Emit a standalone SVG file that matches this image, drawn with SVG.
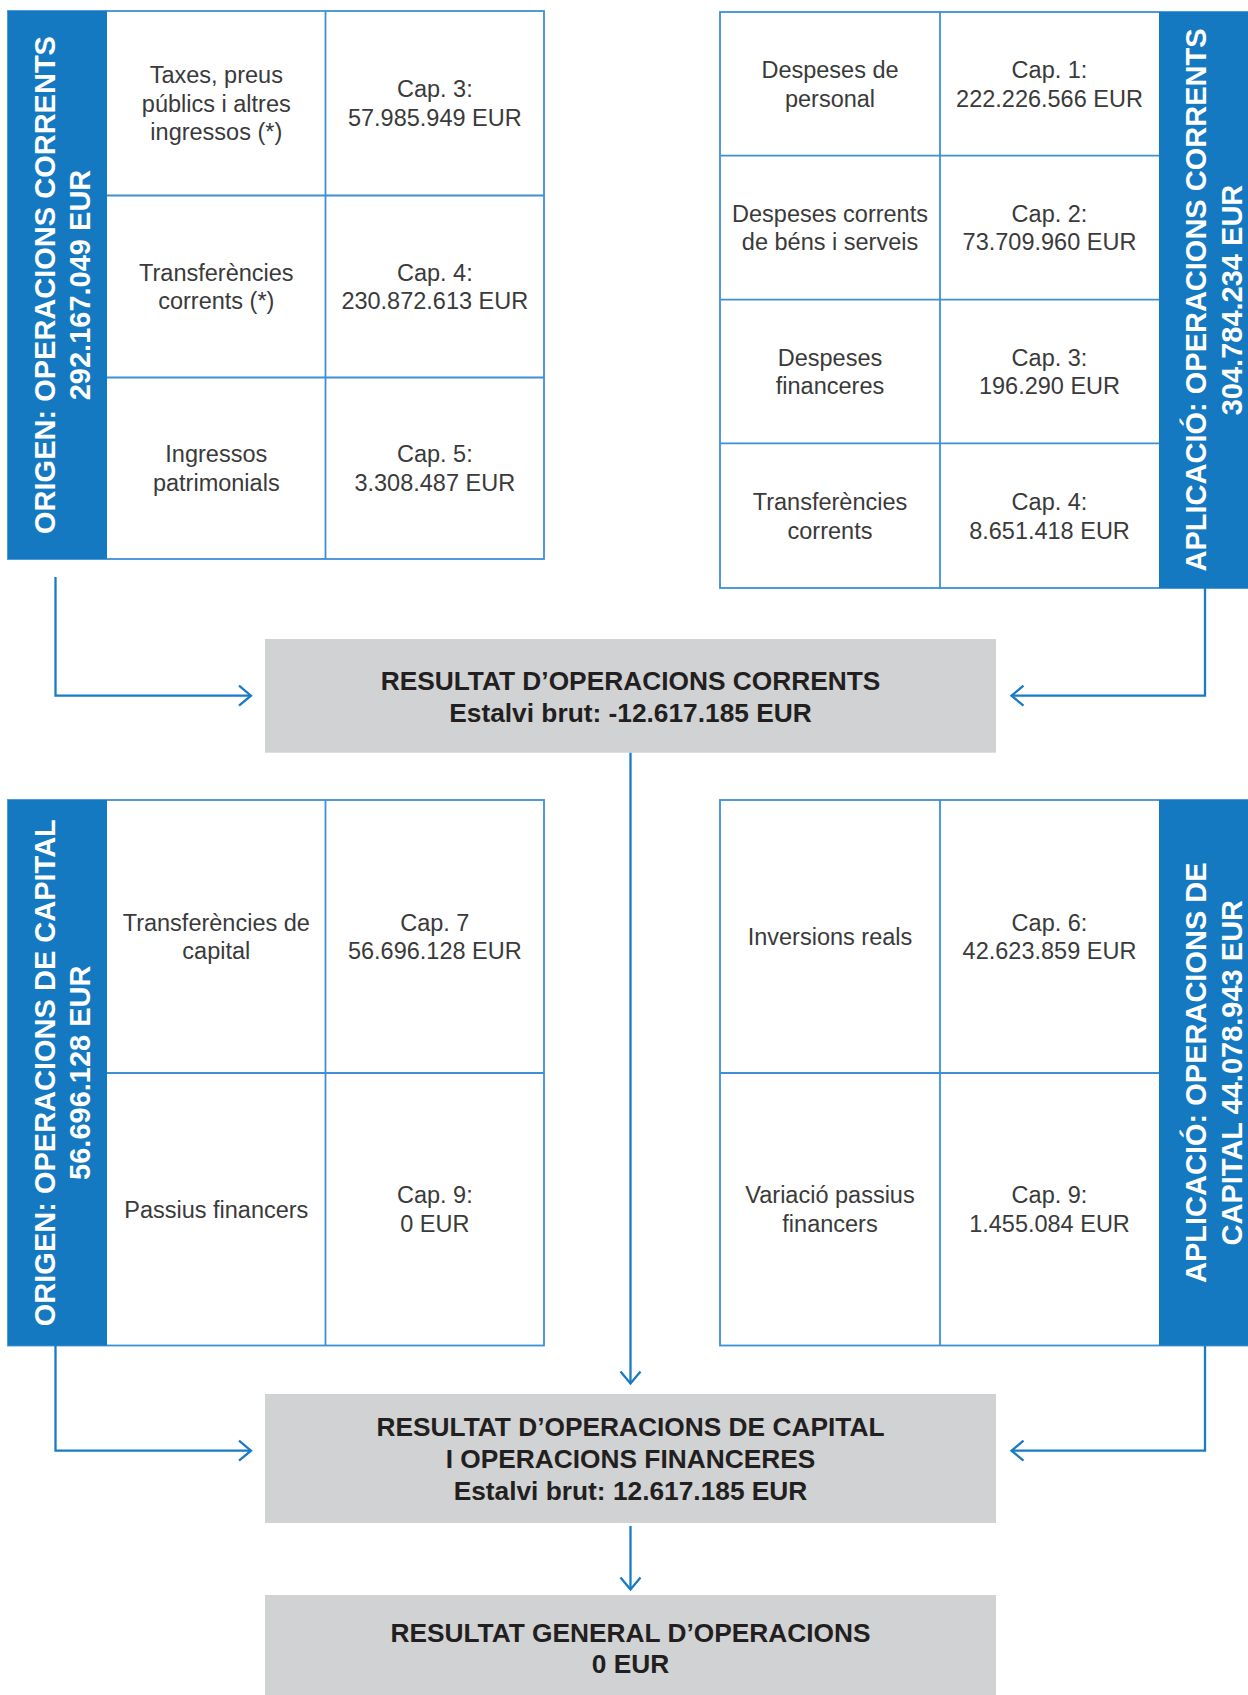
<svg xmlns="http://www.w3.org/2000/svg" width="1248" height="1695" viewBox="0 0 1248 1695">
<style>
.cell{font-family:"Liberation Sans",Arial,sans-serif;font-size:23.5px;fill:#3a3a3a;text-anchor:middle}
.band{font-family:"Liberation Sans",Arial,sans-serif;font-size:29px;font-weight:bold;fill:#ffffff;text-anchor:middle}
.res{font-family:"Liberation Sans",Arial,sans-serif;font-size:26.3px;font-weight:bold;fill:#231f20;text-anchor:middle}
.frame{fill:#ffffff;stroke:#3d8fd6;stroke-width:1.8}
.grid{stroke:#3d8fd6;stroke-width:1.8;fill:none}
.bandbg{fill:#1479c1}
.box{fill:#d1d2d4}
.conn{stroke:#1a7ac4;stroke-width:2.3;fill:none}
</style>
<defs>
<marker id="chev" markerUnits="userSpaceOnUse" viewBox="-16 -14 20 28" refX="0" refY="0" markerWidth="20" markerHeight="28" orient="auto">
<path d="M-12,-10 L0,0 L-12,10" fill="none" stroke="#1a7ac4" stroke-width="2.3"/>
</marker>
</defs>

<g id="origen-corrents">
<rect class="frame" x="8" y="11" width="536" height="548"/>
<rect class="bandbg" x="8" y="11" width="99" height="548"/>
<path class="grid" d="M325.5 11 V559 M107 195.5 H544 M107 377.5 H544"/>
<text class="band" transform="translate(54.5,285) rotate(-90)">ORIGEN: OPERACIONS CORRENTS</text>
<text class="band" transform="translate(90,285) rotate(-90)">292.167.049 EUR</text>
<text class="cell" x="216.3" y="82.9">Taxes, preus</text>
<text class="cell" x="216.3" y="111.6">públics i altres</text>
<text class="cell" x="216.3" y="140.3">ingressos (*)</text>
<text class="cell" x="434.8" y="97.3">Cap. 3:</text>
<text class="cell" x="434.8" y="126">57.985.949 EUR</text>
<text class="cell" x="216.3" y="280.5">Transferències</text>
<text class="cell" x="216.3" y="309.2">corrents (*)</text>
<text class="cell" x="434.8" y="280.5">Cap. 4:</text>
<text class="cell" x="434.8" y="309.2">230.872.613 EUR</text>
<text class="cell" x="216.3" y="462.3">Ingressos</text>
<text class="cell" x="216.3" y="491">patrimonials</text>
<text class="cell" x="434.8" y="462.3">Cap. 5:</text>
<text class="cell" x="434.8" y="491">3.308.487 EUR</text>
</g>

<g id="aplicacio-corrents">
<rect class="frame" x="720" y="12" width="540" height="576"/>
<rect class="bandbg" x="1159" y="12" width="91" height="576"/>
<path class="grid" d="M940 12 V588 M720 155.7 H1159 M720 299.6 H1159 M720 443.4 H1159"/>
<text class="band" transform="translate(1206,300) rotate(-90)">APLICACIÓ: OPERACIONS CORRENTS</text>
<text class="band" transform="translate(1242,300) rotate(-90)">304.784.234 EUR</text>
<text class="cell" x="830" y="77.8">Despeses de</text>
<text class="cell" x="830" y="106.5">personal</text>
<text class="cell" x="1049.5" y="77.8">Cap. 1:</text>
<text class="cell" x="1049.5" y="106.5">222.226.566 EUR</text>
<text class="cell" x="830" y="221.6">Despeses corrents</text>
<text class="cell" x="830" y="250.3">de béns i serveis</text>
<text class="cell" x="1049.5" y="221.6">Cap. 2:</text>
<text class="cell" x="1049.5" y="250.3">73.709.960 EUR</text>
<text class="cell" x="830" y="365.5">Despeses</text>
<text class="cell" x="830" y="394.2">financeres</text>
<text class="cell" x="1049.5" y="365.5">Cap. 3:</text>
<text class="cell" x="1049.5" y="394.2">196.290 EUR</text>
<text class="cell" x="830" y="509.8">Transferències</text>
<text class="cell" x="830" y="538.5">corrents</text>
<text class="cell" x="1049.5" y="509.8">Cap. 4:</text>
<text class="cell" x="1049.5" y="538.5">8.651.418 EUR</text>
</g>

<g id="resultat-corrents">
<rect class="box" x="265" y="639" width="731" height="113.7"/>
<text class="res" x="630.5" y="689.5">RESULTAT D’OPERACIONS CORRENTS</text>
<text class="res" x="630.5" y="722">Estalvi brut: -12.617.185 EUR</text>
</g>

<g id="origen-capital">
<rect class="frame" x="8" y="800" width="536" height="545.5"/>
<rect class="bandbg" x="8" y="800" width="99" height="545.5"/>
<path class="grid" d="M325.5 800 V1345.5 M107 1073 H544"/>
<text class="band" transform="translate(54.5,1072.7) rotate(-90)">ORIGEN: OPERACIONS DE CAPITAL</text>
<text class="band" transform="translate(90,1072.7) rotate(-90)">56.696.128 EUR</text>
<text class="cell" x="216.3" y="930.5">Transferències de</text>
<text class="cell" x="216.3" y="959.2">capital</text>
<text class="cell" x="434.8" y="930.5">Cap. 7</text>
<text class="cell" x="434.8" y="959.2">56.696.128 EUR</text>
<text class="cell" x="216.3" y="1217.6">Passius financers</text>
<text class="cell" x="434.8" y="1203.3">Cap. 9:</text>
<text class="cell" x="434.8" y="1232">0 EUR</text>
</g>

<g id="aplicacio-capital">
<rect class="frame" x="720" y="800" width="540" height="545.5"/>
<rect class="bandbg" x="1159" y="800" width="91" height="545.5"/>
<path class="grid" d="M940 800 V1345.5 M720 1073 H1159"/>
<text class="band" transform="translate(1206,1072.7) rotate(-90)">APLICACIÓ: OPERACIONS DE</text>
<text class="band" transform="translate(1242,1072.7) rotate(-90)">CAPITAL 44.078.943 EUR</text>
<text class="cell" x="830" y="944.8">Inversions reals</text>
<text class="cell" x="1049.5" y="930.5">Cap. 6:</text>
<text class="cell" x="1049.5" y="959.2">42.623.859 EUR</text>
<text class="cell" x="830" y="1203.3">Variació passius</text>
<text class="cell" x="830" y="1232">financers</text>
<text class="cell" x="1049.5" y="1203.3">Cap. 9:</text>
<text class="cell" x="1049.5" y="1232">1.455.084 EUR</text>
</g>

<g id="resultat-capital">
<rect class="box" x="265" y="1394" width="731" height="129"/>
<text class="res" x="630.5" y="1435.7">RESULTAT D’OPERACIONS DE CAPITAL</text>
<text class="res" x="630.5" y="1467.7">I OPERACIONS FINANCERES</text>
<text class="res" x="630.5" y="1500">Estalvi brut: 12.617.185 EUR</text>
</g>

<g id="resultat-general">
<rect class="box" x="265" y="1595" width="731" height="100"/>
<text class="res" x="630.5" y="1641.7">RESULTAT GENERAL D’OPERACIONS</text>
<text class="res" x="630.5" y="1673.3">0 EUR</text>
</g>

<g id="connectors">
<path class="conn" d="M55.5 577 V695.7 H251" marker-end="url(#chev)"/>
<path class="conn" d="M1205 588 V695.7 H1011.5" marker-end="url(#chev)"/>
<path class="conn" d="M630.5 752.7 V1383.5" marker-end="url(#chev)"/>
<path class="conn" d="M55.5 1345.5 V1450.7 H251" marker-end="url(#chev)"/>
<path class="conn" d="M1205 1345.5 V1450.7 H1011.5" marker-end="url(#chev)"/>
<path class="conn" d="M630.5 1526 V1589.5" marker-end="url(#chev)"/>
</g>
</svg>
